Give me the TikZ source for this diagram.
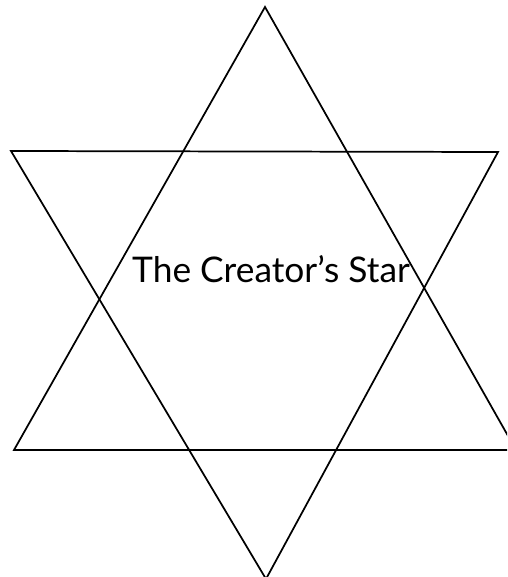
\documentclass[tikz,border=0pt]{standalone}
\usepackage{fontspec}
\setmainfont{Lato}
\begin{document}
\begin{tikzpicture}[x=0.75pt,y=-0.75pt,line width=1.3pt]
  % Pixel coordinates of the reference: X right, Y down.
  \useasboundingbox (0,0) rectangle (507,577);
  \clip (0,0) rectangle (507,577);

  % Upward triangle.
  \coordinate (upTop) at (265,7);
  \coordinate (upLeft) at (14,450);
  \coordinate (upRight) at (516,450);
  \draw (upTop) -- (upLeft) -- (upRight) -- cycle;

  % Downward triangle.
  \coordinate (downLeft) at (11,151);
  \coordinate (downRight) at (498,152);
  \coordinate (downBottom) at (266,579);
  \draw (downLeft) -- (downRight) -- (downBottom) -- cycle;

  % Title.
  \node[font=\fontsize{26.5}{32}\selectfont,anchor=base,inner sep=0pt] (title) at (271,282) {The Creator’s Star};
\end{tikzpicture}
\end{document}
